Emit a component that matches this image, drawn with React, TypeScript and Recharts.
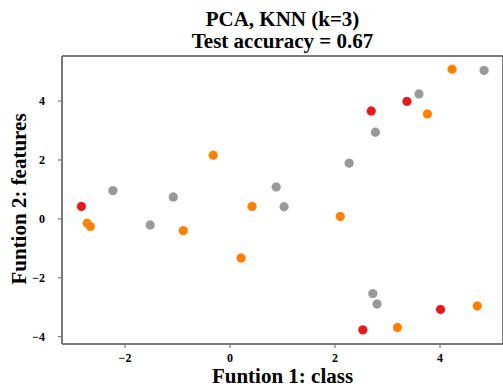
import React from 'react';
import {
  ScatterChart, Scatter, XAxis, YAxis, ReferenceLine
} from 'recharts';

// points, grouped by class colour
const redX = [-2.83, 2.69, 3.37, 2.53, 4.01];
const redY = [0.42, 3.66, 3.99, -3.77, -3.08];

const orangeX = [-2.72, -2.66, -0.32, 0.42, -0.89, 0.21, 2.10, 3.19, 4.71, 4.23, 3.76];
const orangeY = [-0.15, -0.26, 2.16, 0.42, -0.40, -1.33, 0.08, -3.69, -2.96, 5.08, 3.56];

const grayX = [-2.23, -1.08, 0.88, -1.52, 1.03, 2.72, 2.80, 4.84, 3.60, 2.77, 2.27];
const grayY = [0.96, 0.74, 1.08, -0.21, 0.41, -2.54, -2.89, 5.04, 4.24, 2.94, 1.89];

const xTicks = [-2, 0, 2, 4];
const yTicks = [-4, -2, 0, 2, 4];

const toPoints = (xs: number[], ys: number[]) => xs.map((x, i) => ({ x, y: ys[i] }));

const X_MIN = -3.2;
const X_MAX = 5.2;
const Y_MIN = -4.25;
const Y_MAX = 5.53;

const serif = '"Liberation Serif", "DejaVu Serif", serif';
const spine = '#7a7a7a';

const fmt = (v: number) => (v < 0 ? `\u2212${Math.abs(v)}` : `${v}`);

const Dot = (props: any) => {
  const { cx, cy, fill } = props;
  if (cx == null || cy == null) return null;
  return <circle cx={cx} cy={cy} r={4.7} fill={fill} stroke="#fff" strokeOpacity={0.4} strokeWidth={0.5} />;
};

// custom tick text so the serif bold font really applies
const XTick = (props: any) => {
  const { x, y, payload } = props;
  return (
    <text x={x} y={y + 10} textAnchor="middle" fill="#000"
      style={{ fontFamily: serif, fontWeight: 700, fontSize: 12 }}>
      {fmt(payload.value)}
    </text>
  );
};

const YTick = (props: any) => {
  const { x, y, payload } = props;
  return (
    <text x={x} y={y + 4} textAnchor="end" fill="#000"
      style={{ fontFamily: serif, fontWeight: 700, fontSize: 12 }}>
      {fmt(payload.value)}
    </text>
  );
};

export default function App() {
  return (
    <div style={{ position: 'absolute', left: 0, top: 0, width: 503, height: 387, background: '#fff', fontFamily: serif }}>
      <div style={{
        position: 'absolute', left: 62, width: 441, top: 8, textAlign: 'center',
        fontFamily: serif, fontWeight: 700, fontSize: 21, lineHeight: '22px', color: '#000'
      }}>
        <div>PCA, KNN (k=3)</div>
        <div>Test accuracy = 0.67</div>
      </div>
      <ScatterChart width={503} height={387} margin={{ top: 56, right: 0, bottom: 0, left: 0 }}>
        <XAxis
          type="number"
          dataKey="x"
          domain={[X_MIN, X_MAX]}
          ticks={xTicks}
          allowDataOverflow
          height={43}
          stroke={spine}
          strokeWidth={2}
          tickSize={4}
          tickLine={{ stroke: spine, strokeWidth: 1.2 }}
          tick={<XTick />}
          tickMargin={4}
        />
        <YAxis
          type="number"
          dataKey="y"
          domain={[Y_MIN, Y_MAX]}
          ticks={yTicks}
          allowDataOverflow
          width={62}
          stroke={spine}
          strokeWidth={2}
          tickSize={4}
          tickLine={{ stroke: spine, strokeWidth: 1.2 }}
          tick={<YTick />}
          tickMargin={13}
        />
        <ReferenceLine y={Y_MAX} stroke={spine} strokeWidth={2} />
        <ReferenceLine x={X_MAX} stroke={spine} strokeWidth={2} />
        <Scatter data={toPoints(redX, redY)} fill="#e41a1c" shape={<Dot />} isAnimationActive={false} />
        <Scatter data={toPoints(orangeX, orangeY)} fill="#ff7f00" shape={<Dot />} isAnimationActive={false} />
        <Scatter data={toPoints(grayX, grayY)} fill="#999999" shape={<Dot />} isAnimationActive={false} />
      </ScatterChart>
      <div style={{
        position: 'absolute', left: 62, width: 441, top: 366, textAlign: 'center',
        fontFamily: serif, fontWeight: 700, fontSize: 21, lineHeight: '20px', color: '#000'
      }}>
        Funtion 1: class
      </div>
      <div style={{
        position: 'absolute', left: 19, top: 198.5, width: 0, height: 0
      }}>
        <div style={{
          position: 'absolute', left: 0, top: 0, transform: 'translate(-50%, -50%) rotate(-90deg)',
          whiteSpace: 'nowrap', fontFamily: serif, fontWeight: 700, fontSize: 21, color: '#000'
        }}>
          Funtion 2: features
        </div>
      </div>
    </div>
  );
}
